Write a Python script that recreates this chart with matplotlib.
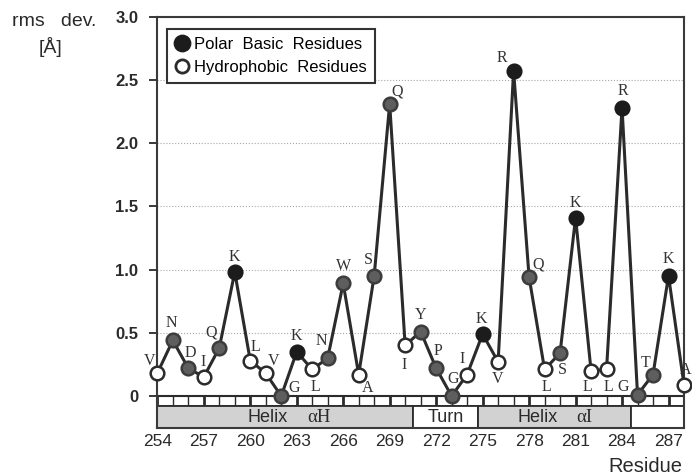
import matplotlib.pyplot as plt
from matplotlib.patches import Rectangle
from matplotlib.lines import Line2D

# rms deviation per residue
residues = list(range(254, 289))
letters = ["V", "N", "D", "I", "Q", "K", "L", "V", "G", "K", "L", "N", "W", "A", "S", "Q", "I", "Y",
           "P", "G", "I", "K", "V", "R", "Q", "L", "S", "K", "L", "L", "R", "G", "T", "K", "A"]
rms = [0.18, 0.44, 0.22, 0.15, 0.38, 0.98, 0.28, 0.18, 0.00, 0.35, 0.21, 0.30, 0.89, 0.17, 0.95, 2.31, 0.40, 0.51,
       0.22, 0.00, 0.17, 0.49, 0.27, 2.57, 0.94, 0.21, 0.34, 1.41, 0.20, 0.21, 2.28, 0.01, 0.17, 0.95, 0.09]
# b = polar basic, h = hydrophobic, o = other
kind = ["h", "o", "o", "h", "o", "b", "h", "h", "o", "b", "h", "o", "o", "h", "o", "o", "h", "o",
        "o", "o", "h", "b", "h", "b", "o", "h", "o", "b", "h", "h", "b", "o", "o", "b", "h"]

y_ticks = [0, 0.5, 1.0, 1.5, 2.0, 2.5, 3.0]
y_tick_labels = ["0", "0.5", "1.0", "1.5", "2.0", "2.5", "3.0"]
x_ticks = list(range(254, 288, 3))

# secondary structure band
seg_names = ["Helix", "Turn", "Helix", ""]
seg_greek = ["αH", "", "αI", ""]
seg_start = [254, 270.5, 274.7, 284.6]
seg_end = [270.5, 274.7, 284.6, 288]

# label offsets in pixels (dx, dy up)
label_off = [(-8, 12), (-1, 17), (2, 15), (-1, 15), (-8, 15), (0, 15), (5, 14), (8, 12), (13, 8),
             (0, 16), (3, -18), (-6, 17), (0, 17), (9, -13), (-6, 16), (7, 12), (-1, -20), (0, 17),
             (2, 17), (1, 17), (-5, 16), (-1, 15), (-1, -17), (-12, 13), (9, 13), (2, -18), (2, -17),
             (0, 15), (-4, -16), (2, -18), (1, 17), (-14, 8), (-7, 12), (0, 17), (2, 15)]

DARK = "#2b2b2b"
SANS = ["Liberation Sans", "DejaVu Sans"]
SERIF = ["Liberation Serif", "DejaVu Serif"]

fig = plt.figure(figsize=(6.92, 4.74), dpi=100)
ax = fig.add_axes([157.3 / 692, 1 - 428.3 / 474, (684 - 157.3) / 692, (428.3 - 16.5) / 474])
ax.set_xlim(254, 288)
ax.set_ylim(-0.255, 3.0)

ax.grid(axis="y", ls=":", color="#a8a8a8", lw=0.8)
ax.set_axisbelow(True)

ax.plot(residues, rms, color=DARK, lw=2.2, zorder=3, clip_on=False)

styles = {
    "b": dict(mfc="#1c1c1c", mec="#1c1c1c"),
    "h": dict(mfc="white", mec=DARK),
    "o": dict(mfc="#5e5e5e", mec="#3c3c3c"),
}
for k, st in styles.items():
    xs = [r for r, kk in zip(residues, kind) if kk == k]
    ys = [v for v, kk in zip(rms, kind) if kk == k]
    ax.plot(xs, ys, ls="none", marker="o", ms=9.8, mew=1.8, zorder=4, clip_on=False, **st)

for r, v, t, (dx, dy) in zip(residues, rms, letters, label_off):
    ax.annotate(t, (r, v), xytext=(dx, dy), textcoords="offset pixels", ha="center", va="center",
                fontfamily=SERIF, fontsize=11.5, color="#333333", annotation_clip=False)

# tick row under zero
ax.axhline(0, color=DARK, lw=1.5, zorder=2)
ax.hlines(-0.082, 254, 288, color=DARK, lw=1.2, zorder=2)
for r in residues:
    ax.vlines(r, -0.082, 0, color=DARK, lw=2.0 if (r - 254) % 3 == 0 else 1.0, zorder=2)

for name, greek, s, e in zip(seg_names, seg_greek, seg_start, seg_end):
    fc = "#d2d2d2" if name == "Helix" else "white"
    ax.add_patch(Rectangle((s, -0.255), e - s, 0.255 - 0.082, fc=fc, ec=DARK, lw=1.3, zorder=2))
    mid = (s + e) / 2
    yc = -0.1685
    if greek:
        ax.text(mid + 0.2, yc, name, ha="right", va="center", fontfamily=SANS, fontsize=13, color="#2a2a2a")
        ax.text(mid + 1.4, yc, greek, ha="left", va="center", fontfamily=SERIF, fontsize=13.5, color="#2a2a2a")
    elif name:
        ax.text(mid, yc, name, ha="center", va="center", fontfamily=SANS, fontsize=13, color="#2a2a2a")

for sp in ax.spines.values():
    sp.set_color("#3a3a3a")
    sp.set_linewidth(1.5)

ax.set_yticks(y_ticks, y_tick_labels)
ax.tick_params(axis="y", direction="out", length=5.8, width=1.3, pad=8, labelsize=12, colors="#2a2a2a")
for lbl in ax.get_yticklabels():
    lbl.set_fontweight("bold")
    lbl.set_fontfamily(SANS)
ax.set_xticks(x_ticks)
ax.tick_params(axis="x", length=0, pad=4, labelsize=12.5, colors="#2a2a2a")
for lbl in ax.get_xticklabels():
    lbl.set_fontfamily(SANS)

fig.text(12 / 692, 1 - 21 / 474, "rms   dev.", ha="left", va="center", fontfamily=SANS, fontsize=14, color="#2a2a2a")
fig.text(51 / 692, 1 - 47 / 474, "[Å]", ha="center", va="center", fontfamily=SANS, fontsize=14, color="#2a2a2a")
fig.text(608 / 692, 1 - 466 / 474, "Residue", ha="left", va="center", fontfamily=SANS, fontsize=14.5, color="#2a2a2a")

handles = [
    Line2D([], [], ls="none", marker="o", ms=11, mew=1.8, mfc="#1c1c1c", mec="#1c1c1c"),
    Line2D([], [], ls="none", marker="o", ms=9.5, mew=2.0, mfc="white", mec=DARK),
]
leg = ax.legend(handles, ["Polar  Basic  Residues", "Hydrophobic  Residues"], loc="upper left",
                bbox_to_anchor=(0.018, 0.969), prop={"family": SANS, "size": 12}, fancybox=False,
                framealpha=1, edgecolor="#333333", handlelength=0.9, handletextpad=0.3, borderpad=0.45,
                labelspacing=0.5, borderaxespad=0)
leg.get_frame().set_linewidth(1.5)

fig.savefig("out.png", dpi=100)
